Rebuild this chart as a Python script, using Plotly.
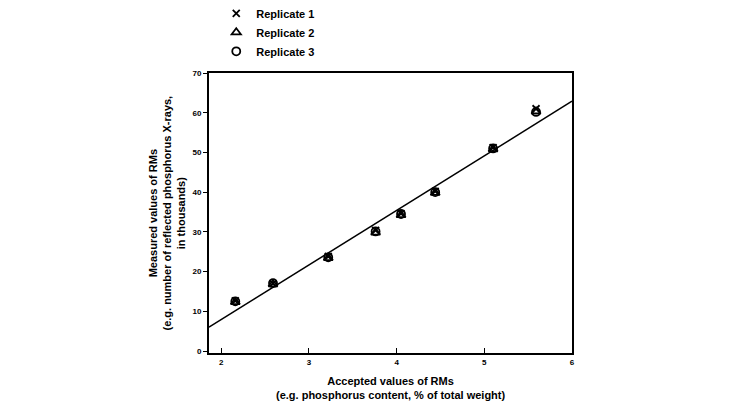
import plotly.graph_objects as go

# accepted values (x) and measured values (y, thousands) for three replicates
accepted = [2.16, 2.59, 3.22, 3.76, 4.05, 4.44, 5.10, 5.59]
rep1 = [12.6, 17.0, 23.8, 30.4, 34.6, 40.2, 51.2, 61.0]
rep2 = [12.3, 16.8, 23.4, 29.8, 34.2, 39.8, 50.8, 60.3]
rep3 = [12.5, 17.1, 23.6, 30.1, 34.5, 40.0, 51.0, 60.2]
fit_x = [1.86, 6.0]
fit_y = [6.0, 62.9]
x_ticks = [2, 3, 4, 5, 6]
y_ticks = [0, 10, 20, 30, 40, 50, 60, 70]

FONT = "Liberation Sans"
fig = go.Figure()
fig.add_trace(go.Scatter(x=fit_x, y=fit_y, mode="lines",
                         line=dict(color="black", width=1.5), showlegend=False,
                         hoverinfo="skip"))
fig.add_trace(go.Scatter(x=accepted, y=rep1, mode="markers", name="Replicate 1",
                         marker=dict(symbol="x-thin-open", size=7, color="black",
                                     line=dict(width=1.8, color="black"))))
fig.add_trace(go.Scatter(x=accepted, y=rep2, mode="markers", name="Replicate 2",
                         marker=dict(symbol="triangle-up-open", size=8, color="black",
                                     line=dict(width=1.8, color="black"))))
fig.add_trace(go.Scatter(x=accepted, y=rep3, mode="markers", name="Replicate 3",
                         marker=dict(symbol="circle-open", size=8, color="black",
                                     line=dict(width=1.8, color="black"))))

fig.update_layout(
    width=731, height=402,
    margin=dict(l=209, r=159, t=73, b=49, autoexpand=False),
    plot_bgcolor="white", paper_bgcolor="white",
    font=dict(family=FONT, color="black"),
    legend=dict(x=0.02, y=1.265, xanchor="left", yanchor="top",
                font=dict(size=11, family=FONT, weight="bold"),
                itemwidth=30, tracegroupgap=0, bgcolor="rgba(0,0,0,0)"),
    xaxis=dict(range=[1.86, 6.0], tickvals=x_ticks, ticktext=[str(v) for v in x_ticks],
               showgrid=False, zeroline=False, showline=True, linecolor="black",
               linewidth=2, mirror=True, ticks="inside", ticklen=5, tickwidth=1,
               tickcolor="black", tickfont=dict(size=8, family=FONT, weight="bold")),
    yaxis=dict(range=[-0.5, 70], tickvals=y_ticks, ticktext=[str(v) for v in y_ticks],
               showgrid=False, zeroline=False, showline=True, linecolor="black",
               linewidth=2, mirror=True, ticks="outside", ticklen=4, tickwidth=1,
               tickcolor="black", tickfont=dict(size=8, family=FONT, weight="bold")),
)

fig.add_annotation(text="Accepted values of RMs<br>(e.g. phosphorus content, % of total weight)",
                   xref="paper", yref="paper", x=0.5, y=-0.07, xanchor="center",
                   yanchor="top", showarrow=False,
                   font=dict(size=11, family=FONT, weight="bold"))
fig.add_annotation(text="Measured values of RMs<br>(e.g. number of reflected phosphorus X-rays,<br>in thousands)",
                   xref="paper", yref="paper", x=-0.117, y=0.5, xanchor="center",
                   yanchor="middle", textangle=-90, showarrow=False,
                   font=dict(size=11, family=FONT, weight="bold"))

fig.write_html("out.html")
